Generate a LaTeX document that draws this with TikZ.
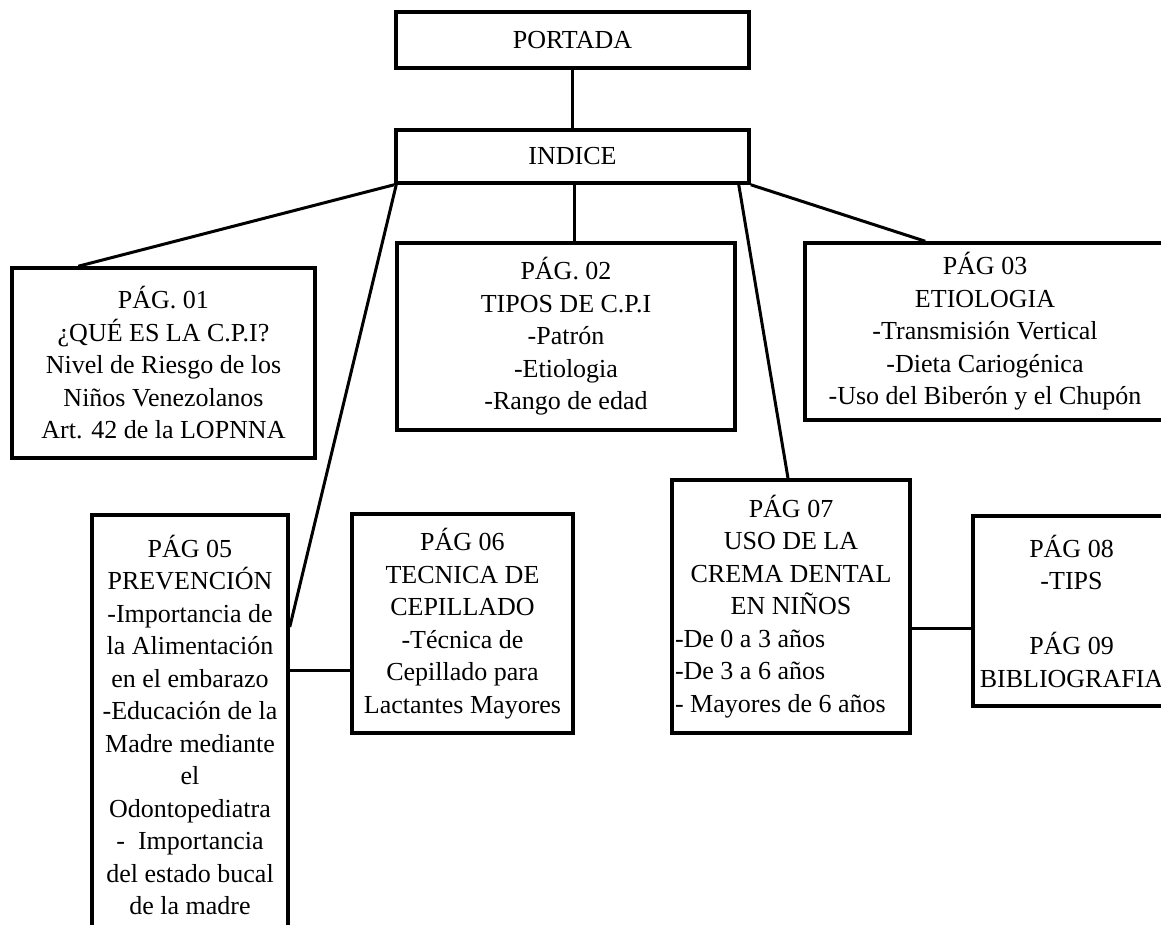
\documentclass[tikz,border=0pt]{standalone}
\usepackage{fontspec}
\setmainfont{Liberation Serif}
\begin{document}
\begin{tikzpicture}[x=1pt,y=-1pt,
  box/.style={draw, line width=3.5pt, inner sep=0pt, align=center,
    font=\fontsize{26}{32.5}\selectfont},
  link/.style={line width=3pt}]
\useasboundingbox (0,0) rectangle (1161,925);
\clip (0,0) rectangle (1161,925);

\node[box, minimum width=353, minimum height=56] (portada) at (572.5,40) {PORTADA};
\node[box, minimum width=353, minimum height=53] (indice) at (572.5,156.5) {INDICE};

\node[box, minimum width=303, minimum height=190] (p01) at (163.5,363)
  {PÁG. 01\\¿QUÉ ES LA C.P.I?\\Nivel de Riesgo de los\\Niños Venezolanos\\Art. 42 de la LOPNNA};
\node[box, minimum width=338, minimum height=187] (p02) at (566,336.5)
  {PÁG. 02\\TIPOS DE C.P.I\\-Patrón\\-Etiologia\\-Rango de edad};
\node[box, minimum width=360, minimum height=177] (p03) at (985,331.5)
  {PÁG 03\\ETIOLOGIA\\-Transmisión Vertical\\-Dieta Cariogénica\\-Uso del Biberón y el Chupón};
\node[box, minimum width=196, minimum height=420] (p05) at (190,725)
  {PÁG 05\\PREVENCIÓN\\-Importancia de\\la Alimentación\\en el embarazo\\-Educación de la\\Madre mediante\\el\\Odontopediatra\\-\ \ Importancia\\del estado bucal\\de la madre};
\node[box, minimum width=221, minimum height=219] (p06) at (462.5,623.5)
  {PÁG 06\\TECNICA DE\\CEPILLADO\\-Técnica de\\Cepillado para\\Lactantes Mayores};
\node[box, minimum width=238, minimum height=253] (p07) at (791,606.5)
  {\parbox{232pt}{\fontsize{26}{32.5}\selectfont\parskip=0pt
   \centering PÁG 07\\USO DE LA\\CREMA DENTAL\\EN NIÑOS\par
   \raggedright -De 0 a 3 años\\-De 3 a 6 años\\- Mayores de 6 años\par}};
\node[box, minimum width=197, minimum height=190] (p08) at (1071.5,611)
  {PÁG 08\\-TIPS\\[32.5pt]PÁG 09\\BIBLIOGRAFIA};

\draw[link] (portada.south) -- (indice.north);
\draw[link] (indice.south west) -- ([xshift=68pt]p01.north west);
\draw[link] ([xshift=1.5pt]indice.south) -- ([xshift=1.5pt]indice.south |- p02.north);
\draw[link] (indice.south east) -- ([xshift=122pt]p03.north west);
\draw[link] ([xshift=2pt]indice.south west) -- ([yshift=98pt]p05.east);
\draw[link] ([yshift=55pt]p05.east) -- ([yshift=-46.5pt]p06.west);
\draw[link] ([xshift=-12pt]indice.south east) -- ([xshift=-3pt]p07.north);
\draw[link] ([yshift=-21.5pt]p07.east) -- ([yshift=-17pt]p08.west);
\end{tikzpicture}
\end{document}
